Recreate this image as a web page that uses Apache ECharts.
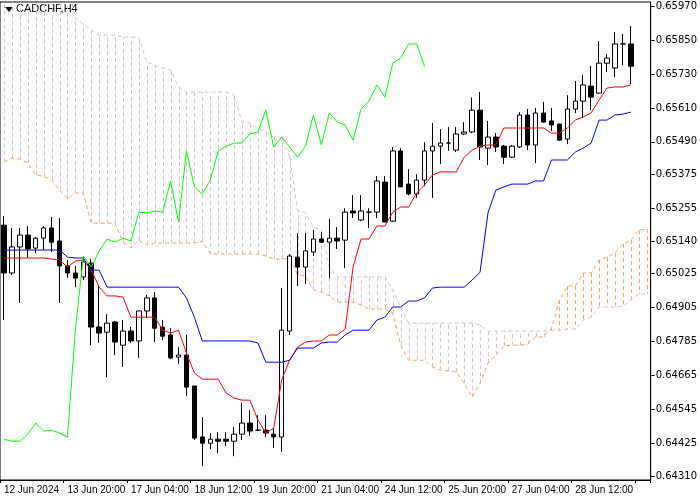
<!DOCTYPE html>
<html>
<head>
<meta charset="utf-8">
<script src="https://cdn.jsdelivr.net/npm/echarts@6/dist/echarts.min.js"></script>
<style>
  html, body { margin: 0; padding: 0; background: #fff; }
  #chart { width: 700px; height: 500px; }
</style>
</head>
<body>
<div id="chart"></div>
<script>
// H4 candles, [open, close, low, high]
const candles = [
  [0.65196, 0.65027, 0.64861, 0.65228], [0.65027, 0.65119, 0.65020, 0.65186],
  [0.65119, 0.65161, 0.64921, 0.65186], [0.65161, 0.65112, 0.65080, 0.65193],
  [0.65115, 0.65150, 0.65097, 0.65154], [0.65150, 0.65186, 0.65108, 0.65193],
  [0.65186, 0.65136, 0.65101, 0.65225], [0.65140, 0.65052, 0.64921, 0.65221],
  [0.65052, 0.65027, 0.65009, 0.65073], [0.65027, 0.65009, 0.64977, 0.65052],
  [0.65013, 0.65066, 0.65002, 0.65083], [0.65062, 0.64836, 0.64772, 0.65076],
  [0.64836, 0.64815, 0.64780, 0.64981], [0.64818, 0.64850, 0.64659, 0.64882],
  [0.64854, 0.64783, 0.64737, 0.64857], [0.64772, 0.64822, 0.64695, 0.64861],
  [0.64822, 0.64787, 0.64780, 0.64836], [0.64787, 0.64893, 0.64727, 0.64893],
  [0.64893, 0.64939, 0.64868, 0.64949], [0.64939, 0.64832, 0.64783, 0.64960],
  [0.64836, 0.64804, 0.64790, 0.64861], [0.64808, 0.64727, 0.64723, 0.64832],
  [0.64730, 0.64737, 0.64705, 0.64765], [0.64737, 0.64624, 0.64592, 0.64808],
  [0.64628, 0.64444, 0.64437, 0.64628], [0.64448, 0.64426, 0.64345, 0.64518],
  [0.64426, 0.64440, 0.64405, 0.64462], [0.64440, 0.64433, 0.64391, 0.64465],
  [0.64440, 0.64433, 0.64416, 0.64465], [0.64433, 0.64458, 0.64380, 0.64483],
  [0.64458, 0.64497, 0.64437, 0.64568], [0.64497, 0.64469, 0.64451, 0.64543],
  [0.64472, 0.64472, 0.64469, 0.64525], [0.64472, 0.64462, 0.64447, 0.64525],
  [0.64458, 0.64448, 0.64409, 0.64479], [0.64448, 0.64825, 0.64395, 0.64974],
  [0.64822, 0.65087, 0.64808, 0.65094], [0.65083, 0.65048, 0.64981, 0.65168],
  [0.65048, 0.65105, 0.64988, 0.65168], [0.65101, 0.65147, 0.65087, 0.65179],
  [0.65147, 0.65136, 0.65133, 0.65172], [0.65136, 0.65150, 0.65009, 0.65218],
  [0.65150, 0.65140, 0.65112, 0.65189], [0.65143, 0.65242, 0.65044, 0.65256],
  [0.65246, 0.65239, 0.65221, 0.65302], [0.65214, 0.65246, 0.65210, 0.65302],
  [0.65242, 0.65242, 0.65186, 0.65256], [0.65242, 0.65352, 0.65221, 0.65369],
  [0.65348, 0.65207, 0.65207, 0.65369], [0.65210, 0.65458, 0.65207, 0.65472],
  [0.65458, 0.65331, 0.65331, 0.65468], [0.65341, 0.65306, 0.65302, 0.65394],
  [0.65306, 0.65355, 0.65292, 0.65376], [0.65355, 0.65458, 0.65334, 0.65489],
  [0.65458, 0.65475, 0.65292, 0.65557], [0.65475, 0.65486, 0.65412, 0.65535],
  [0.65486, 0.65486, 0.65458, 0.65542], [0.65461, 0.65518, 0.65454, 0.65542],
  [0.65518, 0.65525, 0.65514, 0.65560], [0.65525, 0.65602, 0.65521, 0.65647],
  [0.65602, 0.65472, 0.65426, 0.65666], [0.65468, 0.65507, 0.65408, 0.65564],
  [0.65507, 0.65472, 0.65454, 0.65521], [0.65475, 0.65436, 0.65412, 0.65479],
  [0.65436, 0.65475, 0.65433, 0.65479], [0.65472, 0.65585, 0.65468, 0.65595],
  [0.65585, 0.65479, 0.65461, 0.65606], [0.65479, 0.65592, 0.65415, 0.65610],
  [0.65592, 0.65560, 0.65557, 0.65631], [0.65564, 0.65550, 0.65528, 0.65610],
  [0.65553, 0.65496, 0.65493, 0.65553], [0.65500, 0.65606, 0.65482, 0.65655],
  [0.65606, 0.65634, 0.65592, 0.65705], [0.65634, 0.65691, 0.65574, 0.65726],
  [0.65687, 0.65648, 0.65602, 0.65758], [0.65662, 0.65768, 0.65659, 0.65846],
  [0.65768, 0.65786, 0.65737, 0.65800], [0.65751, 0.65836, 0.65719, 0.65878],
  [0.65836, 0.65836, 0.65761, 0.65871], [0.65836, 0.65757, 0.65694, 0.65899]
];

const tenkan = [
  0.65080, 0.65080, 0.65080, 0.65080, 0.65080, 0.65080, 0.65076, 0.65073, 0.65048, 0.65069,
  0.65073, 0.65037, 0.64977, 0.64946, 0.64946, 0.64942, 0.64871, 0.64871, 0.64871, 0.64871,
  0.64825, 0.64815, 0.64825, 0.64744, 0.64674, 0.64652, 0.64652, 0.64652, 0.64603, 0.64585,
  0.64578, 0.64578, 0.64508, 0.64462, 0.64479, 0.64649, 0.64719, 0.64765, 0.64783, 0.64787,
  0.64787, 0.64808, 0.64808, 0.64829, 0.65048, 0.65147, 0.65147, 0.65193, 0.65193, 0.65242,
  0.65260, 0.65260, 0.65309, 0.65338, 0.65373, 0.65384, 0.65384, 0.65384, 0.65436, 0.65461,
  0.65475, 0.65479, 0.65479, 0.65539, 0.65539, 0.65539, 0.65539, 0.65539, 0.65539, 0.65521,
  0.65521, 0.65539, 0.65567, 0.65578, 0.65592, 0.65638, 0.65680, 0.65684, 0.65684, 0.65691
];

const kijun = [
  0.65108, 0.65108, 0.65108, 0.65108, 0.65108, 0.65108, 0.65108, 0.65108, 0.65083, 0.65080,
  0.65080, 0.65037, 0.65037, 0.64977, 0.64977, 0.64977, 0.64977, 0.64977, 0.64977, 0.64977,
  0.64977, 0.64977, 0.64977, 0.64939, 0.64871, 0.64787, 0.64787, 0.64787, 0.64787, 0.64787,
  0.64787, 0.64787, 0.64780, 0.64712, 0.64712, 0.64712, 0.64719, 0.64762, 0.64762, 0.64762,
  0.64780, 0.64783, 0.64783, 0.64808, 0.64825, 0.64825, 0.64825, 0.64861, 0.64871, 0.64907,
  0.64907, 0.64928, 0.64928, 0.64939, 0.64974, 0.64977, 0.64977, 0.64977, 0.64977, 0.65002,
  0.65030, 0.65239, 0.65320, 0.65331, 0.65341, 0.65341, 0.65341, 0.65352, 0.65352, 0.65426,
  0.65426, 0.65426, 0.65454, 0.65468, 0.65486, 0.65567, 0.65567, 0.65585, 0.65588, 0.65595
];

const spanA = [
  0.65419, 0.65433, 0.65429, 0.65415, 0.65373, 0.65369, 0.65355, 0.65320, 0.65288, 0.65309,
  0.65309, 0.65203, 0.65203, 0.65203, 0.65203, 0.65136, 0.65115, 0.65143, 0.65126, 0.65133,
  0.65133, 0.65133, 0.65133, 0.65133, 0.65133, 0.65140, 0.65094, 0.65094, 0.65094, 0.65094,
  0.65094, 0.65094, 0.65094, 0.65087, 0.65076, 0.65076, 0.65080, 0.65020, 0.65016, 0.64967,
  0.64960, 0.64946, 0.64924, 0.64924, 0.64924, 0.64914, 0.64900, 0.64900, 0.64900, 0.64886,
  0.64772, 0.64719, 0.64719, 0.64719, 0.64695, 0.64684, 0.64681, 0.64677, 0.64638, 0.64589,
  0.64638, 0.64709, 0.64737, 0.64769, 0.64772, 0.64772, 0.64776, 0.64801, 0.64801, 0.64832,
  0.64931, 0.64981, 0.64981, 0.65027, 0.65027, 0.65073, 0.65083, 0.65097, 0.65129, 0.65143,
  0.65179, 0.65182
];

const spanB = [
  0.66050, 0.66050, 0.66050, 0.66050, 0.66050, 0.66050, 0.66050, 0.66050, 0.66050, 0.65927,
  0.65906, 0.65885, 0.65867, 0.65867, 0.65867, 0.65860, 0.65860, 0.65860, 0.65772, 0.65761,
  0.65751, 0.65744, 0.65684, 0.65666, 0.65666, 0.65666, 0.65666, 0.65666, 0.65666, 0.65655,
  0.65560, 0.65557, 0.65539, 0.65525, 0.65507, 0.65507, 0.65436, 0.65249, 0.65239, 0.65189,
  0.65179, 0.65048, 0.65013, 0.65013, 0.65013, 0.65013, 0.65013, 0.65013, 0.65013, 0.64967,
  0.64907, 0.64850, 0.64850, 0.64850, 0.64850, 0.64850, 0.64850, 0.64850, 0.64850, 0.64850,
  0.64843, 0.64822, 0.64822, 0.64822, 0.64822, 0.64822, 0.64822, 0.64822, 0.64822, 0.64825,
  0.64825, 0.64829, 0.64829, 0.64861, 0.64871, 0.64907, 0.64907, 0.64907, 0.64910, 0.64931,
  0.64953, 0.64953
];

const timeLabels = [
  '12 Jun 2024', '13 Jun 20:00', '17 Jun 04:00', '18 Jun 12:00', '19 Jun 20:00',
  '21 Jun 04:00', '24 Jun 12:00', '25 Jun 20:00', '27 Jun 04:00', '28 Jun 12:00'
];

const priceTicks = [
  0.65970, 0.65850, 0.65730, 0.65610, 0.65490, 0.65375, 0.65255, 0.65140,
  0.65025, 0.64905, 0.64785, 0.64665, 0.64545, 0.64425, 0.64310
];

const lastPrice = 0.65757;
const shift = 26;
const slots = spanA.length;

const chart = echarts.init(document.getElementById('chart'));

const closes = candles.map(c => c[1]);
const chikou = closes.slice(shift);
const cloud = spanA.map((a, i) => [i, a, spanB[i]]);

chart.setOption({
  animation: false,
  backgroundColor: '#fff',
  textStyle: { fontFamily: 'Liberation Sans' },
  graphic: [
    { type: 'polygon', shape: { points: [[5, 7], [13, 7], [9, 12]] }, style: { fill: '#000' } },
    { type: 'text', left: 16, top: 3, style: { text: 'CADCHF,H4', fontSize: 11, fill: '#000', fontFamily: 'Liberation Sans' } }
  ],
  grid: { left: 0, right: 46, top: 2, bottom: 20, show: true, borderColor: '#000', borderWidth: 1 },
  xAxis: {
    type: 'category',
    data: Array.from({ length: slots }, (_, i) => String(i)),
    boundaryGap: true,
    axisLine: { lineStyle: { color: '#000' } },
    axisTick: { show: true, interval: i => i % 8 === 0, length: 3, lineStyle: { color: '#000' } },
    axisLabel: {
      interval: i => i % 8 === 0 && i / 8 < timeLabels.length,
      formatter: (v, i) => timeLabels[i / 8] || '',
      align: 'left', margin: 5, fontSize: 10, color: '#000', fontFamily: 'Liberation Sans'
    },
    splitLine: { show: false }
  },
  yAxis: {
    type: 'value',
    position: 'right',
    min: 0.64296,
    max: 0.65984,
    axisLine: { show: true, lineStyle: { color: '#000' } },
    axisTick: { show: true, customValues: priceTicks, length: 4, lineStyle: { color: '#000' } },
    axisLabel: {
      customValues: priceTicks, formatter: v => v.toFixed(5),
      margin: 5, fontSize: 10, color: '#000', fontFamily: 'DejaVu Sans'
    },
    splitLine: { show: false }
  },
  series: [
    {
      type: 'custom',
      name: 'cloud',
      clip: true,
      encode: { x: 0, y: [1, 2] },
      data: cloud,
      renderItem: (params, api) => {
        const i = api.value(0);
        const a = api.value(1);
        const b = api.value(2);
        const p1 = api.coord([i, a]);
        const p2 = api.coord([i, b]);
        // snap to the pixel grid so the hatch stays a crisp 1px line
        const x = Math.round(p1[0]) + 0.5;
        return {
          type: 'line',
          shape: { x1: x, y1: p1[1], x2: x, y2: p2[1] },
          style: { stroke: a > b ? '#f4a460' : '#d8bfd8', lineWidth: 1, lineDash: [4, 3] }
        };
      },
      z: 1
    },
    {
      type: 'line', name: 'Senkou A', data: spanA, symbol: 'none',
      lineStyle: { color: '#f4a460', width: 1, type: [4, 3] }, z: 2
    },
    {
      type: 'line', name: 'Senkou B', data: spanB, symbol: 'none',
      lineStyle: { color: '#d8bfd8', width: 1, type: [4, 3] }, z: 2
    },
    {
      type: 'candlestick',
      data: candles.map(c => [c[0], c[1], c[2], c[3]]),
      barWidth: 5,
      itemStyle: { color: '#fff', color0: '#000', borderColor: '#000', borderColor0: '#000', borderWidth: 1 },
      markLine: {
        symbol: 'none',
        silent: true,
        lineStyle: { color: '#c0c0c0', width: 1, type: 'solid' },
        label: {
          position: 'end', formatter: lastPrice.toFixed(5), color: '#fff', backgroundColor: '#000',
          fontSize: 10, padding: [2, 3], distance: 2, fontFamily: 'DejaVu Sans'
        },
        data: [{ yAxis: lastPrice }]
      },
      z: 5
    },
    {
      type: 'line', name: 'Tenkan', data: tenkan, symbol: 'none',
      lineStyle: { color: '#ff0000', width: 1 }, z: 6
    },
    {
      type: 'line', name: 'Kijun', data: kijun, symbol: 'none',
      lineStyle: { color: '#0000ff', width: 1 }, z: 6
    },
    {
      type: 'line', name: 'Chikou', data: chikou, symbol: 'none',
      lineStyle: { color: '#00ff00', width: 1 }, z: 6
    }
  ]
});
</script>
</body>
</html>
